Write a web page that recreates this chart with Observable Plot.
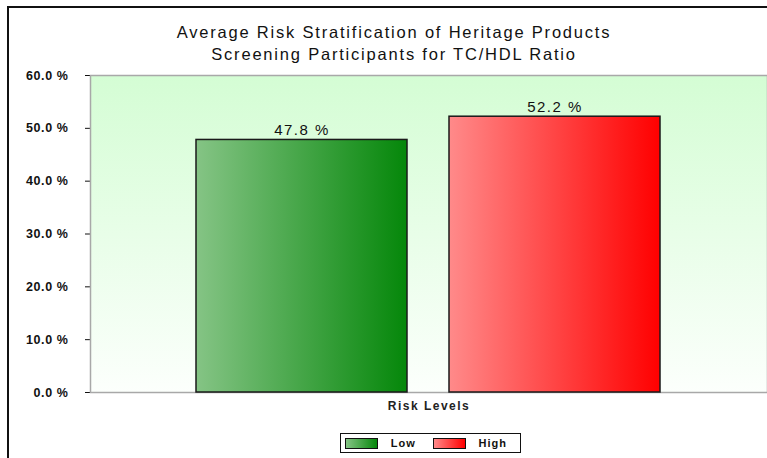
<!DOCTYPE html>
<html>
<head>
<meta charset="utf-8">
<script src="https://cdn.jsdelivr.net/npm/d3@7"></script>
<script src="https://cdn.jsdelivr.net/npm/@observablehq/plot@0.6"></script>
<style>
  html, body { margin: 0; padding: 0; background: #fff; }
  #wrap { position: relative; width: 767px; height: 458px; overflow: hidden; font-family: "Liberation Sans", Arial, sans-serif; color: #111; }
  #border-top { position: absolute; left: 7px; top: 6px; width: 770px; height: 2px; background: #111; }
  #border-left { position: absolute; left: 7px; top: 6px; width: 2px; height: 470px; background: #111; }
  #title { position: absolute; left: 94px; width: 600px; top: 21px; text-align: center; font-size: 16.5px; line-height: 22px; letter-spacing: 1.8px; }
  #chart { position: absolute; left: 0; top: 0; }
  #legend { position: absolute; left: 340px; top: 433px; width: 181px; height: 20px; border: 1.5px solid #111; background: #fff; box-sizing: border-box; display: flex; align-items: center; font-size: 11px; font-weight: bold; letter-spacing: 1px; }
  #legend .sw { display: inline-block; width: 36px; height: 9px; border: 1.5px solid #111; margin-left: 4px; margin-right: 13px; }
  #legend .lab { margin-right: 13px; }
</style>
</head>
<body>
<div id="wrap">
  <div id="border-top"></div>
  <div id="border-left"></div>
  <div id="title"></div>
  <div id="chart"></div>
  <div id="legend"></div>
</div>
<script>
// Chart text and values
const titleLines = ["Average Risk Stratification of Heritage Products", "Screening Participants for TC/HDL Ratio"];
const categories = ["Risk Levels"];
const levels = ["Low", "High"];
const percents = [47.8, 52.2];
const yTicks = [0, 10, 20, 30, 40, 50, 60];

// Horizontal gradients for each series (light on the left, saturated on the right)
const seriesGradients = {
  Low: ["#85c485", "#05870a"],
  High: ["#ff8a8a", "#ff0000"]
};

const rows = levels.map((level, i) => ({level, value: percents[i], fill: `url(#grad-${level})`}));

document.getElementById("title").innerHTML = titleLines.map(t => `<div>${t}</div>`).join("");

const chart = Plot.plot({
  width: 767,
  height: 458,
  marginTop: 75,
  marginBottom: 66,
  marginLeft: 90,
  marginRight: 0,
  style: {background: "transparent", fontFamily: "Liberation Sans, Arial, sans-serif", fontSize: "12px", color: "#111"},
  x: {domain: levels, paddingInner: 0.165, paddingOuter: 0.417, axis: null},
  y: {domain: [0, 60], ticks: yTicks, tickFormat: d => d.toFixed(1) + " %", tickSize: 5, tickPadding: 17, label: null},
  color: {type: "identity"},
  marks: [
    Plot.frame({fill: "white", stroke: "#a8a8a8", strokeWidth: 1.5}),
    Plot.barY(rows, {x: "level", y: "value", fill: "fill", stroke: "#1a1a1a", strokeWidth: 1.5}),
    Plot.text(rows, {x: "level", y: "value", text: d => d.value.toFixed(1) + " %", dy: -10, fontSize: 15, fill: "#111"}),
    Plot.text(categories, {text: d => d, frameAnchor: "bottom", dy: 17, fontSize: 12, fontWeight: "bold", fill: "#222"})
  ]
});

// Gradient definitions for the plot background and the bars
const svg = d3.select(chart);
const defs = svg.insert("defs", ":first-child");
const bg = defs.append("linearGradient").attr("id", "grad-bg").attr("x1", 0).attr("y1", 0).attr("x2", 0).attr("y2", 1);
bg.append("stop").attr("offset", "0%").attr("stop-color", "#d4fdd4");
bg.append("stop").attr("offset", "100%").attr("stop-color", "#fcfffc");
for (const level of levels) {
  const g = defs.append("linearGradient").attr("id", `grad-${level}`).attr("x1", 0).attr("y1", 0).attr("x2", 1).attr("y2", 0);
  g.append("stop").attr("offset", "0%").attr("stop-color", seriesGradients[level][0]);
  g.append("stop").attr("offset", "100%").attr("stop-color", seriesGradients[level][1]);
}
const frameEl = chart.querySelector('[aria-label="frame"]');
const frameRect = frameEl && (frameEl.tagName.toLowerCase() === "rect" ? frameEl : frameEl.querySelector("rect"));
if (frameRect) frameRect.setAttribute("fill", "url(#grad-bg)");

// Letter spacing: wide for value and axis-title labels, heavy for y tick labels
svg.selectAll('[aria-label="text"] text').style("letter-spacing", "1.5px");
svg.selectAll('[aria-label^="y-axis"] text')
  .style("letter-spacing", "0.6px")
  .style("font-weight", "bold")
  .style("font-size", "12.5px");

document.getElementById("chart").appendChild(chart);

// Legend
document.getElementById("legend").innerHTML = levels.map(level =>
  `<span class="sw" style="background:linear-gradient(to right, ${seriesGradients[level][0]}, ${seriesGradients[level][1]})"></span><span class="lab">${level}</span>`
).join("");
</script>
</body>
</html>
